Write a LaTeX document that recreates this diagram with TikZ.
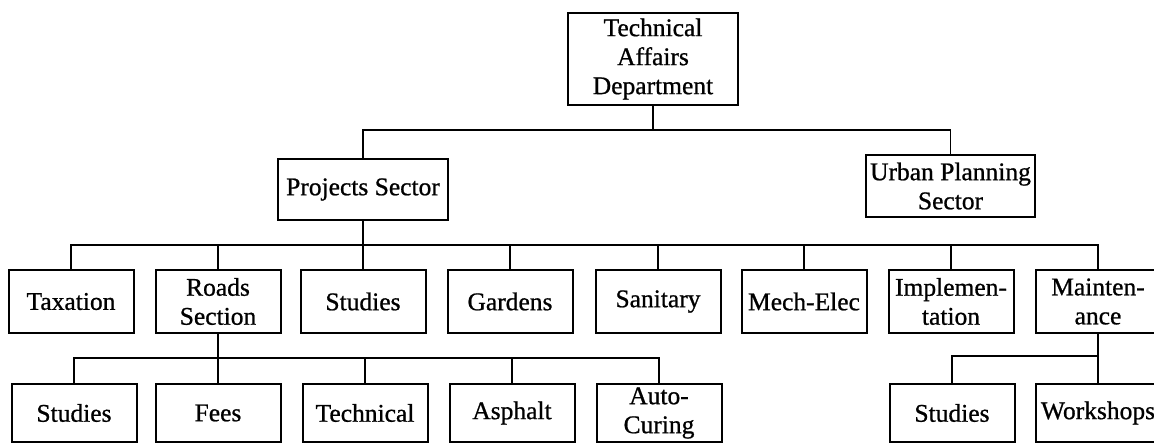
\documentclass[tikz,border=0pt]{standalone}
\usepackage{fontspec}
\setmainfont{Liberation Serif}[UprightFeatures={FakeBold=0.8}]
\begin{document}
\begin{tikzpicture}[x=1pt,y=-1pt,
  box/.style={draw=black, line width=2pt, inner sep=0pt, align=center,
    font=\fontsize{25.5}{29}\selectfont, minimum width=125pt},
  rowtwo/.style={box, minimum height=63pt},
  rowthree/.style={box, minimum height=58pt},
  conn/.style={draw=black, line width=1.8pt}]
\clip (0,0) rectangle (1154,445);
\fill[white] (0,0) rectangle (1154,445);
% top
\node[box, minimum width=170pt, minimum height=92pt] (tad) at (653,59) {Technical\\Affairs\\Department};
\node[box, minimum width=170pt, minimum height=61pt] (ps) at (363,189.5) {Projects Sector};
\node[box, minimum width=169pt, minimum height=62pt] (ups) at (950.5,186) {Urban Planning\\Sector};
% row 2
\node[rowtwo] (tax) at (71,301.5) {Taxation};
\node[rowtwo] (rds) at (218,301.5) {Roads\\Section};
\node[rowtwo] (st1) at (363,301.5) {Studies};
\node[rowtwo] (gar) at (510,301.5) {Gardens};
\node[rowtwo] (san) at (658,301.5) {Sanitary};
\node[rowtwo] (mec) at (804,301.5) {Mech-Elec};
\node[rowtwo] (imp) at (951,301.5) {Implemen-\\tation};
\node[rowtwo] (mnt) at (1098,301.5) {Mainten-\\ance};
% row 3
\node[rowthree] (st2) at (74,413) {Studies};
\node[rowthree] (fee) at (218,413) {Fees};
\node[rowthree] (tec) at (365,413) {Technical};
\node[rowthree] (asp) at (512,413) {Asphalt};
\node[rowthree] (aut) at (659,413) {Auto-\\Curing};
\node[rowthree] (st3) at (952,413) {Studies};
\node[rowthree] (wrk) at (1098,413) {Workshops};
% connectors level 1
\coordinate (b1) at (653,130);
\draw[conn] (tad.south) -- (b1);
\draw[conn] (ps.north) |- (b1) -| (ups.north);
% level 2
\coordinate (b2) at (363,245);
\draw[conn] (ps.south) -- (st1.north);
\draw[conn] (tax.north) |- (b2) -| (mnt.north);
\foreach \n in {rds,gar,san,mec,imp}{
  \draw[conn] (\n.north) -- (\n.north |- b2);
}
% level 3 (roads)
\coordinate (b3) at (218,358);
\draw[conn] (rds.south) -- (b3) -- (fee.north);
\draw[conn] (st2.north) |- (b3) -| (aut.north);
\foreach \n in {tec,asp}{
  \draw[conn] (\n.north) -- (\n.north |- b3);
}
% level 3 (maintenance)
\coordinate (b4) at (1098,356);
\draw[conn] (mnt.south) -- (b4) -- (wrk.north);
\draw[conn] (st3.north) |- (b4);
\end{tikzpicture}
\end{document}
